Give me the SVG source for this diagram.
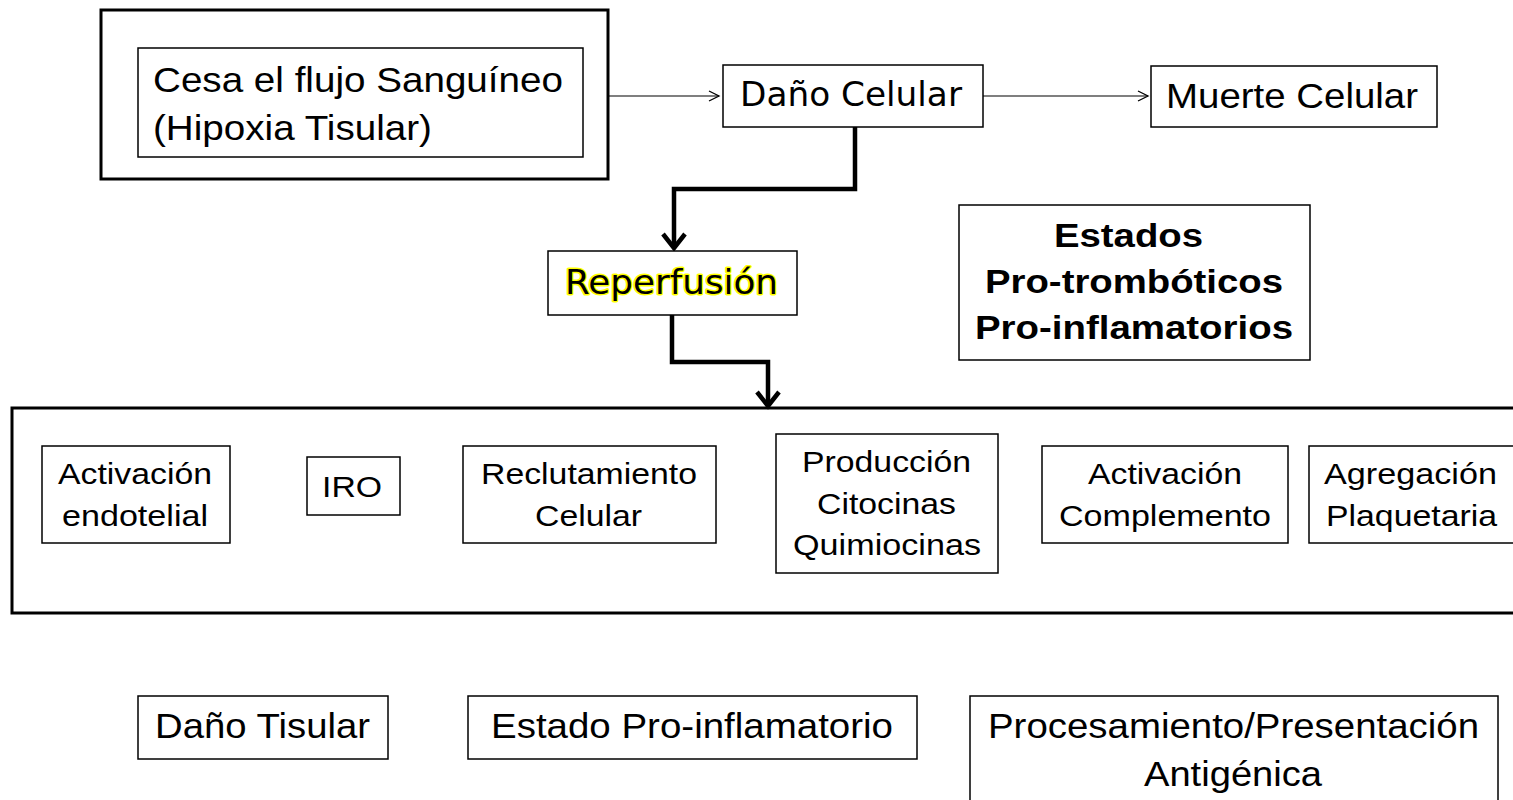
<svg xmlns="http://www.w3.org/2000/svg" width="1513" height="800" viewBox="0 0 1513 800">
<style>
.b{fill:#fff;stroke:#000;stroke-width:1.5}
.B{fill:none;stroke:#000;stroke-width:3}
.t{font-family:"Liberation Sans",Arial,sans-serif;font-size:35px;fill:#000}
.s{font-family:"Liberation Sans",Arial,sans-serif;font-size:30px;fill:#000}
.c{font-family:"Comic Sans MS","DejaVu Sans",sans-serif;font-size:33px;fill:#000}
.bold{font-weight:bold;font-size:34px}
.thin{fill:none;stroke:#000;stroke-width:1.2}
.thick{fill:none;stroke:#000;stroke-width:4.5;stroke-linejoin:miter}
</style>
<defs>
<marker id="oa" markerWidth="14" markerHeight="14" refX="12" refY="7" orient="auto" markerUnits="userSpaceOnUse">
<path d="M2,2 L12,7 L2,12" fill="none" stroke="#000" stroke-width="1.3"/>
</marker>
<marker id="ta" markerWidth="30" markerHeight="30" refX="26" refY="15" orient="auto" markerUnits="userSpaceOnUse">
<path d="M12,4 L26,15 L12,26" fill="none" stroke="#000" stroke-width="4.5"/>
</marker>
</defs>
<rect width="1513" height="800" fill="#fff"/>
<g id="connectors">
<line class="thin" x1="608" y1="96" x2="719" y2="96" marker-end="url(#oa)"/>
<line class="thin" x1="983" y1="96" x2="1148" y2="96" marker-end="url(#oa)"/>
<path class="thick" d="M855,127 V189 H674 V248" marker-end="url(#ta)"/>
<path class="thick" d="M672,315 V362 H768 V406" marker-end="url(#ta)"/>
</g>
<g id="n-cesa">
<rect class="B" x="101" y="10" width="507" height="169"/>
<rect class="b" x="138" y="48" width="445" height="109"/>
<text class="t" x="153" y="92" textLength="410" lengthAdjust="spacingAndGlyphs">Cesa el flujo Sanguíneo</text>
<text class="t" x="153" y="140" textLength="279" lengthAdjust="spacingAndGlyphs">(Hipoxia Tisular)</text>
</g>
<g id="n-dano">
<rect class="b" x="723" y="65" width="260" height="62"/>
<text class="c" x="740" y="106" textLength="222" lengthAdjust="spacingAndGlyphs">Daño Celular</text>
</g>
<g id="n-muerte">
<rect class="b" x="1151" y="66" width="286" height="61"/>
<text class="t" x="1166" y="108" textLength="252" lengthAdjust="spacingAndGlyphs">Muerte Celular</text>
</g>
<g id="n-reperfusion">
<rect class="b" x="548" y="251" width="249" height="64"/>
<text class="c" x="565" y="294" textLength="213" lengthAdjust="spacingAndGlyphs" style="stroke:#ffff00;stroke-width:3;paint-order:stroke;stroke-linejoin:round">Reperfusión</text>
</g>
<g id="n-estados">
<rect class="b" x="959" y="205" width="351" height="155"/>
<text class="t bold" x="1054" y="247" textLength="149" lengthAdjust="spacingAndGlyphs">Estados</text>
<text class="t bold" x="985" y="293" textLength="298" lengthAdjust="spacingAndGlyphs">Pro-trombóticos</text>
<text class="t bold" x="975" y="339" textLength="318" lengthAdjust="spacingAndGlyphs">Pro-inflamatorios</text>
</g>
<g id="n-grupo">
<rect class="B" x="12" y="408" width="1510" height="205"/>
</g>
<g id="n-activacion-endotelial">
<rect class="b" x="42" y="446" width="188" height="97"/>
<text class="s" x="58" y="484" textLength="154" lengthAdjust="spacingAndGlyphs">Activación</text>
<text class="s" x="62" y="526" textLength="146" lengthAdjust="spacingAndGlyphs">endotelial</text>
</g>
<g id="n-iro">
<rect class="b" x="307" y="457" width="93" height="58"/>
<text class="s" x="322" y="497" textLength="60" lengthAdjust="spacingAndGlyphs">IRO</text>
</g>
<g id="n-reclutamiento">
<rect class="b" x="463" y="446" width="253" height="97"/>
<text class="s" x="481" y="484" textLength="216" lengthAdjust="spacingAndGlyphs">Reclutamiento</text>
<text class="s" x="535" y="526" textLength="107" lengthAdjust="spacingAndGlyphs">Celular</text>
</g>
<g id="n-produccion">
<rect class="b" x="776" y="434" width="222" height="139"/>
<text class="s" x="802" y="472" textLength="169" lengthAdjust="spacingAndGlyphs">Producción</text>
<text class="s" x="817" y="514" textLength="139" lengthAdjust="spacingAndGlyphs">Citocinas</text>
<text class="s" x="793" y="555" textLength="188" lengthAdjust="spacingAndGlyphs">Quimiocinas</text>
</g>
<g id="n-complemento">
<rect class="b" x="1042" y="446" width="246" height="97"/>
<text class="s" x="1088" y="484" textLength="154" lengthAdjust="spacingAndGlyphs">Activación</text>
<text class="s" x="1059" y="526" textLength="212" lengthAdjust="spacingAndGlyphs">Complemento</text>
</g>
<g id="n-agregacion">
<rect class="b" x="1309" y="446" width="220" height="97"/>
<text class="s" x="1324" y="484" textLength="173" lengthAdjust="spacingAndGlyphs">Agregación</text>
<text class="s" x="1326" y="526" textLength="171" lengthAdjust="spacingAndGlyphs">Plaquetaria</text>
</g>
<g id="n-dano-tisular">
<rect class="b" x="138" y="696" width="250" height="63"/>
<text class="t" x="155" y="738" textLength="215" lengthAdjust="spacingAndGlyphs">Daño Tisular</text>
</g>
<g id="n-estado-proinflamatorio">
<rect class="b" x="468" y="696" width="449" height="63"/>
<text class="t" x="491" y="738" textLength="402" lengthAdjust="spacingAndGlyphs">Estado Pro-inflamatorio</text>
</g>
<g id="n-procesamiento">
<rect class="b" x="970" y="696" width="528" height="120"/>
<text class="t" x="988" y="738" textLength="491" lengthAdjust="spacingAndGlyphs">Procesamiento/Presentación</text>
<text class="t" x="1144" y="786" textLength="178" lengthAdjust="spacingAndGlyphs">Antigénica</text>
</g>
</svg>
